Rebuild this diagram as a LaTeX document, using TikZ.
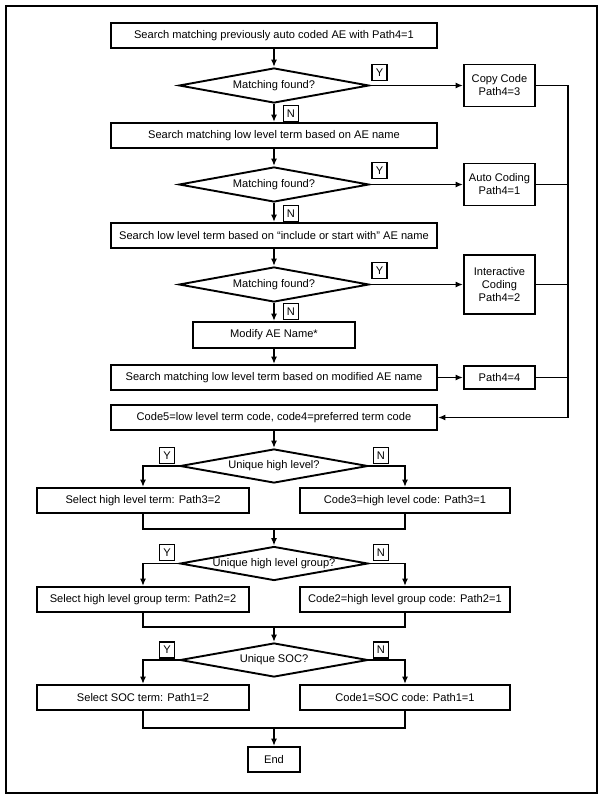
\documentclass[tikz,border=0pt]{standalone}
\usepackage{fontspec}
\setmainfont{Liberation Sans}
\usetikzlibrary{shapes.geometric,arrows.meta}
\newcommand\myfs{\fontsize{11.1}{13}\selectfont}
\begin{document}
\begin{tikzpicture}[x=1pt,y=-1pt,
  line width=1.8pt,
  box/.style={draw, line width=1.9pt, minimum height=25pt, inner sep=0pt, font=\myfs, align=center},
  dia/.style={draw, line width=1.9pt, shape=diamond, aspect=5.4, inner sep=0pt, minimum width=190pt, minimum height=35pt},
  dtext/.style={font=\myfs, inner sep=0pt},
  yn/.style={draw, line width=1.4pt, minimum width=15pt, minimum height=16pt, inner sep=0pt, font=\myfs},
  arr/.style={-{Latex[length=7.5pt,width=6pt]}},
]
\useasboundingbox (0,0) rectangle (603,800);
\draw[line width=1.9pt] (6,6) rectangle (597,793);

% main column
\node[box, minimum width=326pt] (b1) at (274,35.5) {Search matching previously auto coded AE with Path4=1};
\node[dia] (d1) at (274,85.5) {};
\node[dtext] (d1t) at (d1.center) {Matching found?};
\node[box, minimum width=326pt] (b2) at (274,135.5) {Search matching low level term based on AE name};
\node[dia] (d2) at (274,184.5) {};
\node[dtext] (d2t) at (d2.center) {Matching found?};
\node[box, minimum width=326pt] (b3) at (274,235.5) {Search low level term based on “include or start with” AE name};
\node[dia] (d3) at (274,284.5) {};
\node[dtext] (d3t) at (d3.center) {Matching found?};
\node[box, minimum width=162pt, minimum height=26pt] (mod) at (274,335) {Modify AE Name*};
\node[box, minimum width=326pt] (b4) at (274,377.5) {Search matching low level term based on modified AE name};
\node[box, minimum width=326pt] (c5) at (274,417.5) {Code5=low level term code, code4=preferred term code};

% right column
\node[box, minimum width=71pt, minimum height=42pt] (cc) at (499.5,85.5) {Copy Code\\Path4=3};
\node[box, minimum width=71pt, minimum height=42pt] (ac) at (499.5,184.5) {Auto Coding\\Path4=1};
\node[box, minimum width=71pt, minimum height=59pt] (ic) at (499.5,284.5) {Interactive\\Coding\\Path4=2};
\node[box, minimum width=71pt, minimum height=23pt] (p4) at (499.5,377.5) {Path4=4};
\coordinate (rail) at (568,417.5);

% lower part
\node[dia, minimum width=188pt, minimum height=34pt] (d4) at (274,466) {};
\node[dtext] (d4t) at (d4.center) {Unique high level?};
\node[box, minimum width=212pt] (l1) at (143,500.5) {Select high level term: Path3=2};
\node[box, minimum width=210pt] (r1) at (405,500.5) {Code3=high level code: Path3=1};
\coordinate (m1) at (274,529);
\node[dia, minimum width=188pt, minimum height=34pt] (d5) at (274,563.5) {};
\node[dtext] (d5t) at (d5.center) {Unique high level group?};
\node[box, minimum width=212pt] (l2) at (143,599.5) {Select high level group term: Path2=2};
\node[box, minimum width=210pt] (r2) at (405,599.5) {Code2=high level group code: Path2=1};
\coordinate (m2) at (274,627);
\node[dia, minimum width=188pt, minimum height=34pt] (d6) at (274,660) {};
\node[dtext] (d6t) at (d6.center) {Unique SOC?};
\node[box, minimum width=212pt] (l3) at (143,697.5) {Select SOC term: Path1=2};
\node[box, minimum width=210pt] (r3) at (405,697.5) {Code1=SOC code: Path1=1};
\coordinate (m3) at (274,728);
\node[box, minimum width=52pt] (end) at (274,759.5) {End};

% Y/N labels
\node[yn] (y1) at (379.5,72.5) {Y};
\node[yn] (n1) at (291,113.5) {N};
\node[yn] (y2) at (379.5,170.5) {Y};
\node[yn] (n2) at (291,213.5) {N};
\node[yn] (y3) at (379.5,270.5) {Y};
\node[yn] (n3) at (291,311.5) {N};
\node[yn] (y4) at (167,455.5) {Y};
\node[yn] (n4) at (381,455.5) {N};
\node[yn] (y5) at (167,552.5) {Y};
\node[yn] (n5) at (381,552.5) {N};
\node[yn] (y6) at (167,650) {Y};
\node[yn] (n6) at (381,650) {N};

% connectors
\draw[arr] (b1) -- (d1);
\draw[arr] (d1) -- (b2);
\draw[arr] (b2) -- (d2);
\draw[arr] (d2) -- (b3);
\draw[arr] (b3) -- (d3);
\draw[arr] (d3) -- (mod);
\draw[arr] (mod) -- (b4);
\draw[arr] (d1.east) -- (cc.west);
\draw[arr] (d2.east) -- (ac.west);
\draw[arr] (d3.east) -- (ic.west);
\draw[arr] (b4) -- (p4);
\draw[arr] (cc.east) -| (rail) -- (c5.east);
\draw (ac.east) -- (ac.east -| rail);
\draw (ic.east) -- (ic.east -| rail);
\draw (p4.east) -- (p4.east -| rail);

\draw[arr] (c5) -- (d4);
\draw[arr] (d4.west) -| (l1.north);
\draw[arr] (d4.east) -| (r1.north);
\draw (l1.south) |- (m1) -| (r1.south);
\draw[arr] (m1) -- (d5);
\draw[arr] (d5.west) -| (l2.north);
\draw[arr] (d5.east) -| (r2.north);
\draw (l2.south) |- (m2) -| (r2.south);
\draw[arr] (m2) -- (d6);
\draw[arr] (d6.west) -| (l3.north);
\draw[arr] (d6.east) -| (r3.north);
\draw (l3.south) |- (m3) -| (r3.south);
\draw[arr] (m3) -- (end);
\end{tikzpicture}
\end{document}
